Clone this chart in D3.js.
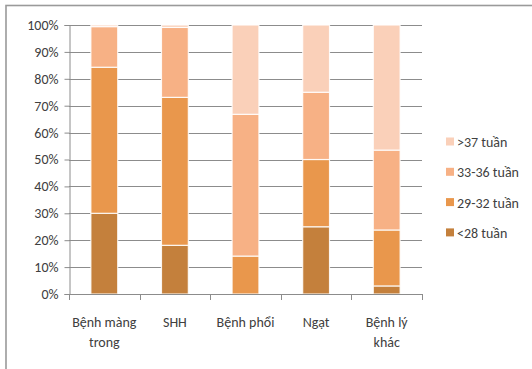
<!DOCTYPE html>
<html>
<head>
<meta charset="utf-8">
<script src="https://cdn.jsdelivr.net/npm/d3@7"></script>
<style>
  html, body { margin: 0; padding: 0; background: #fff; }
  svg { display: block; font-family: Carlito, "Liberation Sans Narrow", "Open Sans", sans-serif; }
</style>
</head>
<body>
<svg id="chart" width="532" height="369"></svg>
<script>
// Disease groups on the x axis (labels wrap onto two lines)
const categories = ["Bệnh màng trong", "SHH", "Bệnh phổi", "Ngạt", "Bệnh lý khác"];
const categoryLines = [["Bệnh màng", "trong"], ["SHH"], ["Bệnh phổi"], ["Ngạt"], ["Bệnh lý", "khác"]];

// Gestational-age groups, bottom to top of each stack
const seriesNames = ["<28 tuần", "29-32 tuần", "33-36 tuần", ">37 tuần"];
const under28   = [30.0, 18.1,  0.0, 25.0,  3.0];
const w29to32   = [54.3, 55.0, 14.1, 25.0, 20.8];
const w33to36   = [15.1, 26.0, 52.7, 25.0, 29.7];
const over37    = [ 0.6,  0.9, 33.2, 25.0, 46.5];
const seriesValues = [under28, w29to32, w33to36, over37];
const seriesColors = ["#C4803C", "#E9974C", "#F7B185", "#FAD0B9"];

// Y axis ticks
const yTicks = [0, 10, 20, 30, 40, 50, 60, 70, 80, 90, 100];

const svg = d3.select("#chart");

// Outer chart frame
svg.append("rect")
  .attr("x", 6).attr("y", 5.5)
  .attr("width", 540).attr("height", 380)
  .attr("fill", "none").attr("stroke", "#9a9a9a").attr("stroke-width", 1.6);

const plot = { left: 69, right: 422, top: 25, bottom: 294 };

const x = d3.scaleBand()
  .domain(categories)
  .range([plot.left, plot.right])
  .paddingInner(0.62).paddingOuter(0.31);

const y = d3.scaleLinear().domain([0, 100]).range([plot.bottom, plot.top]);

// Gridlines
svg.append("g")
  .selectAll("line")
  .data(yTicks.filter(d => d > 0))
  .join("line")
  .attr("x1", plot.left).attr("x2", plot.right)
  .attr("y1", d => Math.round(y(d)) + 0.5).attr("y2", d => Math.round(y(d)) + 0.5)
  .attr("stroke", "#8c8c8c").attr("stroke-width", 1);

// Stacked data
const rows = categories.map((c, i) => {
  const r = { cat: c };
  seriesNames.forEach((s, k) => r[s] = seriesValues[k][i]);
  return r;
});
const stacked = d3.stack().keys(seriesNames)(rows);

svg.append("g")
  .selectAll("g")
  .data(stacked)
  .join("g")
  .attr("fill", (d, i) => seriesColors[i])
  .selectAll("rect")
  .data(d => d)
  .join("rect")
  .attr("x", d => x(d.data.cat))
  .attr("y", d => y(d[1]))
  .attr("width", x.bandwidth())
  .attr("height", d => Math.max(0, y(d[0]) - y(d[1])))
  .attr("stroke", "#ffffff")
  .attr("stroke-opacity", 0.85)
  .attr("stroke-width", 1.2);

// Y axis
const yAxis = d3.axisLeft(y).tickValues(yTicks).tickFormat(d => d + "%").tickSize(5).tickPadding(6);
const gy = svg.append("g")
  .attr("transform", `translate(${plot.left + 0.5},0)`)
  .call(yAxis);
gy.select(".domain").attr("stroke", "#8c8c8c");
gy.selectAll(".tick line").attr("stroke", "#8c8c8c");
gy.selectAll(".tick text")
  .attr("fill", "#404040")
  .style("font-size", "14px")
  .style("font-family", "Carlito, 'Liberation Sans Narrow', 'Open Sans', sans-serif");

// X axis line and category separators
svg.append("line")
  .attr("x1", plot.left).attr("x2", plot.right)
  .attr("y1", plot.bottom + 0.5).attr("y2", plot.bottom + 0.5)
  .attr("stroke", "#8c8c8c");
const step = x.step();
const boundaries = d3.range(categories.length + 1).map(i => plot.left + i * (plot.right - plot.left) / categories.length);
svg.append("g").selectAll("line")
  .data(boundaries)
  .join("line")
  .attr("x1", d => Math.round(d) + 0.5).attr("x2", d => Math.round(d) + 0.5)
  .attr("y1", plot.bottom).attr("y2", plot.bottom + 6)
  .attr("stroke", "#8c8c8c");

// Category labels
const xl = svg.append("g")
  .selectAll("text")
  .data(categories)
  .join("text")
  .attr("x", d => x(d) + x.bandwidth() / 2)
  .attr("y", 327)
  .attr("text-anchor", "middle")
  .attr("fill", "#404040")
  .style("font-size", "14px");
xl.each(function(d, i) {
  const t = d3.select(this);
  categoryLines[i].forEach((line, j) => {
    t.append("tspan").attr("x", x(d) + x.bandwidth() / 2).attr("dy", j === 0 ? 0 : 20).text(line);
  });
});

// Legend, top entry is the last series
const legendItems = seriesNames.map((s, i) => ({ name: s, color: seriesColors[i] })).reverse();
const lg = svg.append("g")
  .selectAll("g")
  .data(legendItems)
  .join("g")
  .attr("transform", (d, i) => `translate(446,${142 + i * 30.3})`);
lg.append("rect")
  .attr("x", 0).attr("y", -4.5)
  .attr("width", 8).attr("height", 8)
  .attr("fill", d => d.color);
lg.append("text")
  .attr("x", 11).attr("y", 0)
  .attr("dy", "0.35em")
  .attr("fill", "#404040")
  .style("font-size", "14px")
  .text(d => d.name);
</script>
</body>
</html>
